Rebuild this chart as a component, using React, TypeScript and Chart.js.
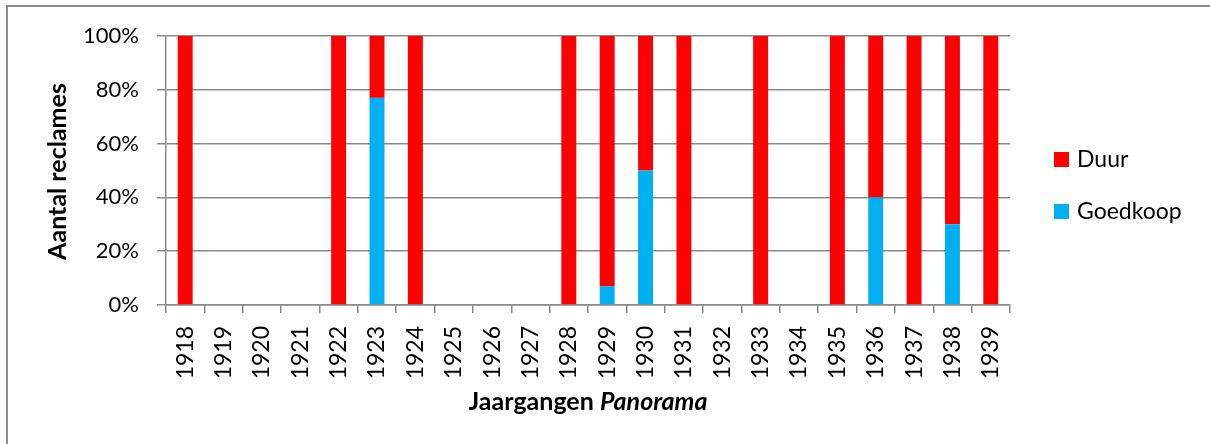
import React, { useEffect, useRef } from "react";
import { Chart, registerables } from "chart.js";

Chart.register(...registerables);

const years = ["1918","1919","1920","1921","1922","1923","1924","1925","1926","1927","1928","1929","1930","1931","1932","1933","1934","1935","1936","1937","1938","1939"];
const goedkoop = [0,0,0,0,0,77,0,0,0,0,0,7,50,0,0,0,0,0,40,0,30,0];
const duur = [100,0,0,0,100,23,100,0,0,0,100,93,50,100,0,100,0,100,60,100,70,100];
const yTicks = [0, 20, 40, 60, 80, 100];

const RED = "#FF0000";
const BLUE = "#00B0F0";
const GRID = "#8a8a8a";
const FONT = "Lato";

const decorPlugin = {
  id: "decor",
  afterDraw(chart: any) {
    const ctx = chart.ctx;
    const area = chart.chartArea;
    ctx.save();
    // frame
    ctx.fillStyle = GRID;
    ctx.fillRect(6, 5, 1204, 2);
    ctx.fillRect(6, 5, 2, 439);
    // y title
    ctx.fillStyle = "#000";
    ctx.font = `bold 25px ${FONT}`;
    ctx.textAlign = "center";
    ctx.textBaseline = "middle";
    ctx.save();
    ctx.translate(58, (area.top + area.bottom) / 2 + 1);
    ctx.rotate(-Math.PI / 2);
    ctx.fillText("Aantal reclames", 0, 0);
    ctx.restore();
    // x title
    const p1 = "Jaargangen ";
    const p2 = "Panorama";
    ctx.font = `bold 25px ${FONT}`;
    const w1 = ctx.measureText(p1).width;
    ctx.font = `italic bold 25px ${FONT}`;
    const w2 = ctx.measureText(p2).width;
    const cx = (area.left + area.right) / 2;
    const x = cx - (w1 + w2) / 2;
    ctx.textAlign = "left";
    ctx.font = `bold 25px ${FONT}`;
    ctx.fillText(p1, x, 402);
    ctx.font = `italic bold 25px ${FONT}`;
    ctx.fillText(p2, x + w1, 402);
    // legend
    const items = [
      { label: "Duur", color: RED, y: 159.5 },
      { label: "Goedkoop", color: BLUE, y: 211.5 },
    ];
    ctx.font = `23px ${FONT}`;
    for (const it of items) {
      ctx.fillStyle = it.color;
      ctx.fillRect(1054, it.y - 7.5, 15, 15);
      ctx.fillStyle = "#000";
      ctx.fillText(it.label, 1077, it.y);
    }
    ctx.restore();
  },
};

export default function App() {
  const ref = useRef<HTMLCanvasElement>(null);
  useEffect(() => {
    if (!ref.current) return;
    const chart = new Chart(ref.current, {
      type: "bar",
      data: {
        labels: years,
        datasets: [
          { label: "Goedkoop", data: goedkoop, backgroundColor: BLUE, borderWidth: 0, categoryPercentage: 1, barPercentage: 0.39 },
          { label: "Duur", data: duur, backgroundColor: RED, borderWidth: 0, categoryPercentage: 1, barPercentage: 0.39 },
        ],
      },
      options: {
        animation: false,
        responsive: false,
        devicePixelRatio: 1,
        layout: { padding: { top: 36, right: 200, left: 0, bottom: 0 } },
        plugins: { legend: { display: false }, tooltip: { enabled: false }, title: { display: false } },
        scales: {
          x: {
            stacked: true,
            grid: { offset: true, drawOnChartArea: false, drawTicks: true, tickLength: 8, color: GRID, lineWidth: 1.5 },
            border: { display: true, color: GRID, width: 1.5 },
            ticks: { minRotation: 90, maxRotation: 90, autoSkip: false, padding: 13, color: "#000", font: { family: FONT, size: 23 } },
            afterFit: (s: any) => { s.height = 444 - 305; },
          },
          y: {
            stacked: true,
            min: 0,
            max: 100,
            afterBuildTicks: (s: any) => { s.ticks = yTicks.map((v) => ({ value: v })); },
            grid: { drawTicks: true, tickLength: 9, color: GRID, lineWidth: 1.5 },
            border: { display: true, color: GRID, width: 1.5 },
            ticks: { padding: 18, color: "#000", font: { family: FONT, size: 22 }, callback: (v: any) => v + "%" },
            afterFit: (s: any) => { s.width = 166; },
          },
        },
      },
      plugins: [decorPlugin],
    });
    return () => chart.destroy();
  }, []);
  return (
    <div style={{ position: "fixed", left: 0, top: 0, width: 1210, height: 444, background: "#fff" }}>
      <canvas ref={ref} width={1210} height={444} />
    </div>
  );
}
